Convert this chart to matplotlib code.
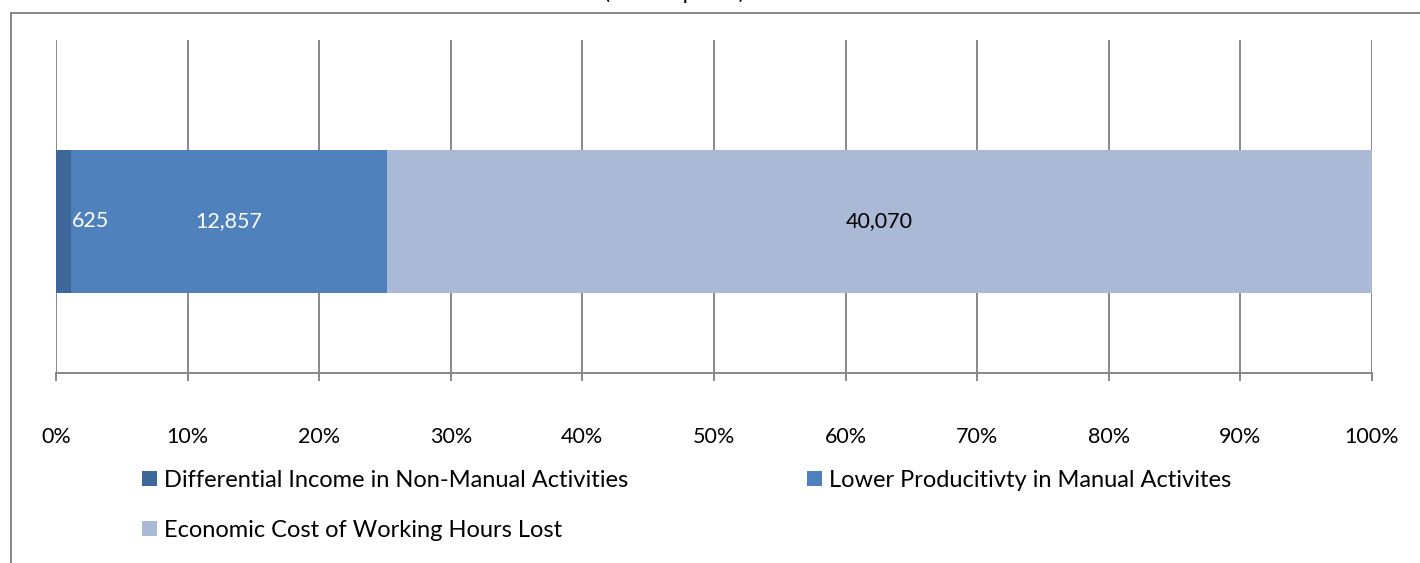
import matplotlib.pyplot as plt
from matplotlib.lines import Line2D
from matplotlib.patches import Patch
import numpy as np

plt.rcParams['font.family'] = ['Lato', 'DejaVu Sans']

series = ["Differential Income in Non-Manual Activities",
          "Lower Producitivty in Manual Activites",
          "Economic Cost of Working Hours Lost"]
values = [625, 12857, 40070]
colors = ["#3E6899", "#4F81BD", "#AAB9D6"]
label_colors = ["white", "white", "black"]
ticks = np.arange(0, 101, 10)

total = sum(values)
shares = [v / total * 100 for v in values]

fig = plt.figure(figsize=(14.2, 5.63), dpi=100)
ax = fig.add_axes([0.0394, 0.3375, 0.9268, 0.5915])

left = 0
for i, (v, s) in enumerate(zip(values, shares)):
    ax.barh(0, s, left=left, height=0.43, color=colors[i], zorder=2)
    if i == 0:
        ax.text(left + s + 0.05, 0, f"{v:,}", ha='left', va='center',
                color=label_colors[i], fontsize=15.5, zorder=3)
    else:
        ax.text(left + s / 2, 0, f"{v:,}", ha='center', va='center',
                color=label_colors[i], fontsize=15.5, zorder=3)
    left += s

ax.set_xlim(0, 100)
ax.set_ylim(-0.455, 0.545)
ax.set_xticks(ticks)
ax.set_xticklabels([f"{t}%" for t in ticks], fontsize=15.5)
ax.set_yticks([])
ax.grid(axis='x', color='#888888', linewidth=1.4, zorder=0)
for side in ['top', 'right', 'left']:
    ax.spines[side].set_visible(False)
ax.spines['bottom'].set_color('#888888')
ax.spines['bottom'].set_linewidth(1.4)
ax.tick_params(axis='x', length=6, width=1.4, color='#888888', pad=33)

# legend filled row by row: two entries on the first line, one below
order = [0, 2, 1]
handles = [Patch(facecolor=colors[i], edgecolor='none') for i in order]
fig.legend(handles, [series[i] for i in order], loc='upper left',
           bbox_to_anchor=(0.092, 0.187), ncol=2, frameon=False, fontsize=17,
           handlelength=0.6, handleheight=0.6, handletextpad=0.3,
           columnspacing=7.6, labelspacing=1.25, borderpad=0)

# outer chart frame
fig.add_artist(Line2D([0.0077, 0.0077], [0, 0.977], color='#888888', lw=1.4))
fig.add_artist(Line2D([0.0077, 1.0], [0.977, 0.977], color='#888888', lw=1.4))

fig.text(0.475, 0.995, "(Million pesos)", ha='center', va='bottom',
         fontsize=16)

fig.savefig("out.png", dpi=100)
